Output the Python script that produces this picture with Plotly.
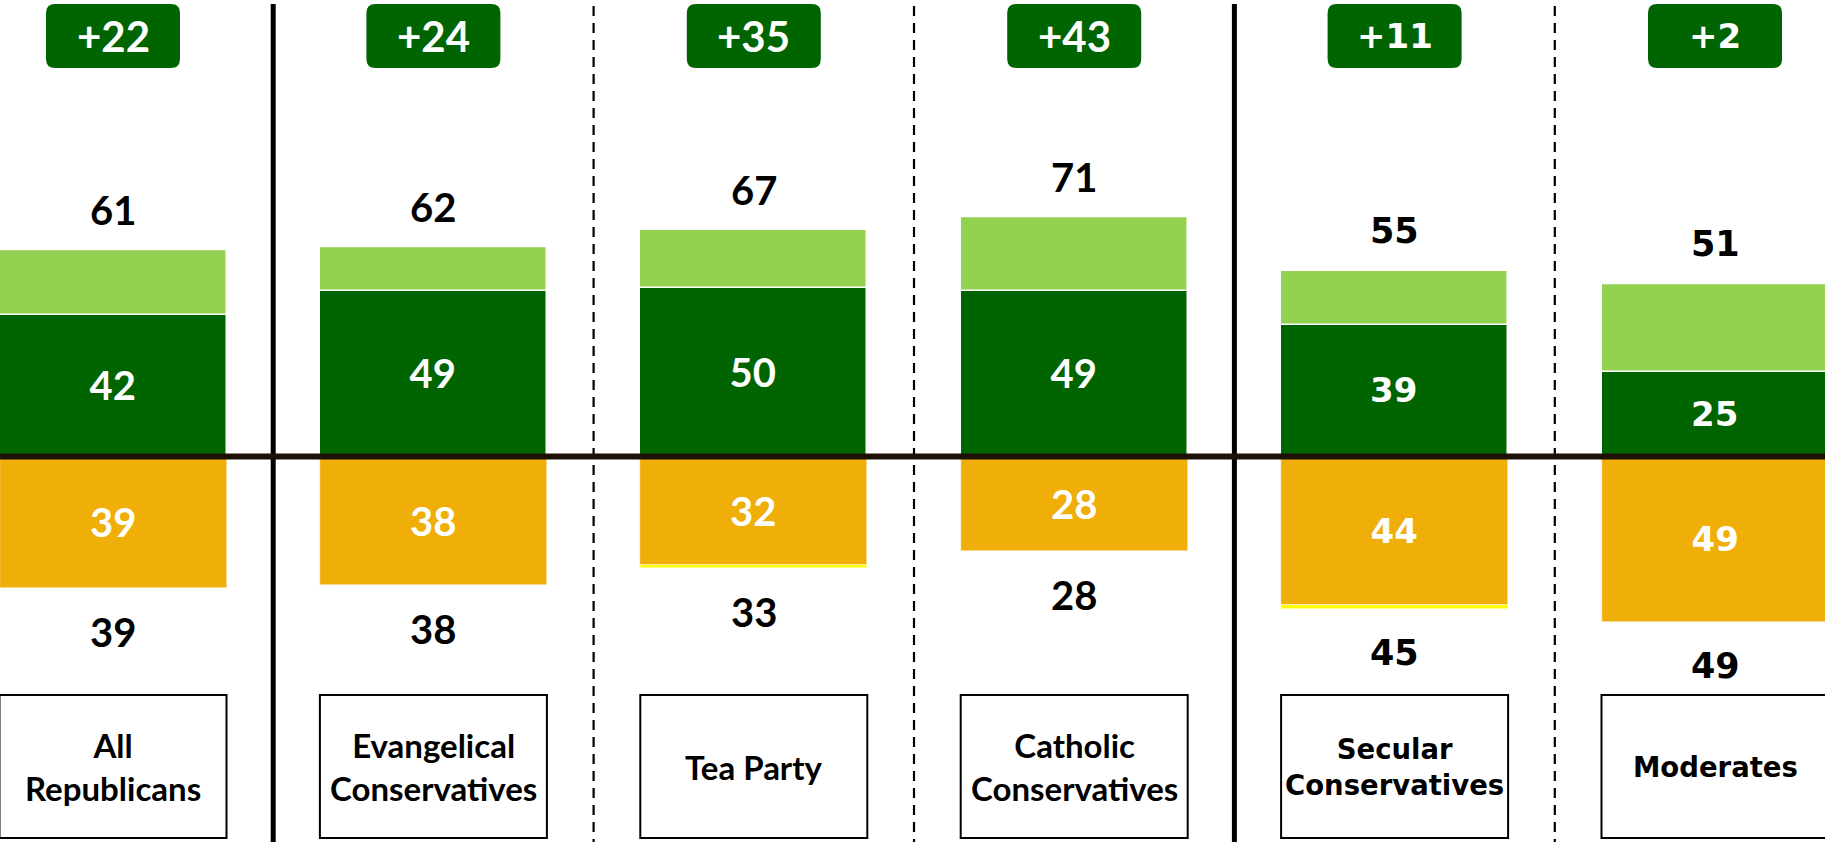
import plotly.graph_objects as go

# ---------------- data ----------------
categories = ["All<br>Republicans", "Evangelical<br>Conservatives", "Tea Party",
              "Catholic<br>Conservatives", "Secular<br>Conservatives", "Moderates"]
strong_fav = [42, 49, 50, 49, 39, 25]
somewhat_fav = [19, 13, 17, 22, 16, 26]
strong_unfav = [39, 38, 32, 28, 44, 49]
other_unfav = [0, 0, 1, 0, 1, 0]
total_fav = [61, 62, 67, 71, 55, 51]
total_unfav = [39, 38, 33, 28, 45, 49]
net_labels = ["+22", "+24", "+35", "+43", "+11", "+2"]
separator_styles = ["solid", "dash", "dash", "solid", "dash"]

# ---------------- styles ----------------
W, H = 1825, 842
PX_PER_CAT = 320.4
X0_PX = 113.0
ZERO_PX = 456.5
PX_PER_UNIT = 3.38

x_range = [-X0_PX / PX_PER_CAT, (W - X0_PX) / PX_PER_CAT]
y_range = [-(H - ZERO_PX) / PX_PER_UNIT, ZERO_PX / PX_PER_UNIT]

def ypx(p):
    return (ZERO_PX - p) / PX_PER_UNIT

DARK_GREEN = "#006400"
LIGHT_GREEN = "#93D251"
ORANGE = "#F0AE08"
YELLOW = "#FFFF00"
ZERO_COLOR = "#1E1005"

LATO = "Lato"
DEJAVU = "DejaVu Sans"
fonts = [LATO, LATO, LATO, LATO, DEJAVU, DEJAVU]
num_sizes = [40, 40, 40, 40, 34, 34]
total_sizes = [40, 40, 40, 40, 35, 35]
badge_sizes = [42, 42, 42, 42, 34, 34]
cat_sizes = [33, 33, 33, 33, 27.5, 27.5]

BAR_W = 227 / PX_PER_CAT
xs = list(range(len(categories)))

fig = go.Figure()
fig.add_trace(go.Bar(
    x=xs, y=strong_fav, width=BAR_W, marker=dict(color=DARK_GREEN, line=dict(color="white", width=1.5)),
    text=[str(v) for v in strong_fav], textposition="inside", insidetextanchor="middle",
    textangle=0, textfont=dict(color="white", size=num_sizes, family=fonts, weight="bold"),
    hoverinfo="skip", showlegend=False))
fig.add_trace(go.Bar(
    x=xs, y=somewhat_fav, width=BAR_W, marker=dict(color=LIGHT_GREEN, line=dict(color="white", width=1.5)),
    hoverinfo="skip", showlegend=False))
fig.add_trace(go.Bar(
    x=xs, y=[-v for v in strong_unfav], width=BAR_W, marker=dict(color=ORANGE, line=dict(color="white", width=0.5)),
    text=[str(v) for v in strong_unfav], textposition="inside", insidetextanchor="middle",
    textangle=0, textfont=dict(color="white", size=num_sizes, family=fonts, weight="bold"),
    hoverinfo="skip", showlegend=False))
fig.add_trace(go.Bar(
    x=xs, y=[-v for v in other_unfav], width=BAR_W, marker=dict(color=YELLOW, line=dict(color="white", width=0.5)),
    hoverinfo="skip", showlegend=False))

shapes = []
annotations = []

# separators
for i, style in enumerate(separator_styles):
    xv = i + 0.5
    if style == "solid":
        shapes.append(dict(type="line", x0=xv, x1=xv, y0=ypx(4), y1=y_range[0] - 5,
                           line=dict(color="black", width=5), layer="above"))
    else:
        shapes.append(dict(type="line", x0=xv, x1=xv, y0=ypx(6), y1=y_range[0] - 5,
                           line=dict(color="black", width=2.2, dash="10px,7px"), layer="above"))

# zero line
shapes.append(dict(type="line", x0=x_range[0] - 1, x1=x_range[1] + 1, y0=0, y1=0,
                   line=dict(color=ZERO_COLOR, width=6), layer="above"))

# badges (rounded rectangles)
bw = 67 / PX_PER_CAT
rx = 9 / PX_PER_CAT
ry = 9 / PX_PER_UNIT
yt, yb = ypx(4), ypx(68)
for i, lab in enumerate(net_labels):
    x0, x1 = i - bw, i + bw
    path = (f"M {x0+rx},{yt} L {x1-rx},{yt} Q {x1},{yt} {x1},{yt-ry} "
            f"L {x1},{yb+ry} Q {x1},{yb} {x1-rx},{yb} L {x0+rx},{yb} "
            f"Q {x0},{yb} {x0},{yb+ry} L {x0},{yt-ry} Q {x0},{yt} {x0+rx},{yt} Z")
    shapes.append(dict(type="path", path=path, fillcolor=DARK_GREEN, line=dict(width=0), layer="above"))
    annotations.append(dict(x=i, y=(yt + yb) / 2, text=f"<b>{lab}</b>", showarrow=False,
                            font=dict(color="white", size=badge_sizes[i], family=fonts[i]),
                            xanchor="center", yanchor="middle"))

# totals
for i in xs:
    annotations.append(dict(x=i, y=total_fav[i] + 40 / PX_PER_UNIT, text=f"<b>{total_fav[i]}</b>",
                            showarrow=False, font=dict(color="black", size=total_sizes[i], family=fonts[i]),
                            xanchor="center", yanchor="middle"))
    annotations.append(dict(x=i, y=-total_unfav[i] - 44 / PX_PER_UNIT, text=f"<b>{total_unfav[i]}</b>",
                            showarrow=False, font=dict(color="black", size=total_sizes[i], family=fonts[i]),
                            xanchor="center", yanchor="middle"))

# category boxes
by0, by1 = ypx(838), ypx(695)
for i, cat in enumerate(categories):
    shapes.append(dict(type="rect", x0=i - BAR_W / 2, x1=i + BAR_W / 2, y0=by0, y1=by1,
                       line=dict(color="black", width=2), fillcolor="white", layer="above"))
    annotations.append(dict(x=i, y=(by0 + by1) / 2, text=f"<b>{cat}</b>", showarrow=False,
                            font=dict(color="black", size=cat_sizes[i], family=fonts[i]),
                            xanchor="center", yanchor="middle", align="center"))

fig.update_layout(
    width=W, height=H, margin=dict(l=0, r=0, t=0, b=0),
    paper_bgcolor="white", plot_bgcolor="white",
    barmode="relative", bargap=0,
    xaxis=dict(range=x_range, visible=False, fixedrange=True),
    yaxis=dict(range=y_range, visible=False, fixedrange=True),
    shapes=shapes, annotations=annotations, showlegend=False,
    uniformtext=dict(mode=False),
)

fig.write_html("out.html", config={"displayModeBar": False},
               post_script="document.body.style.margin='0';document.body.style.overflow='hidden';")
